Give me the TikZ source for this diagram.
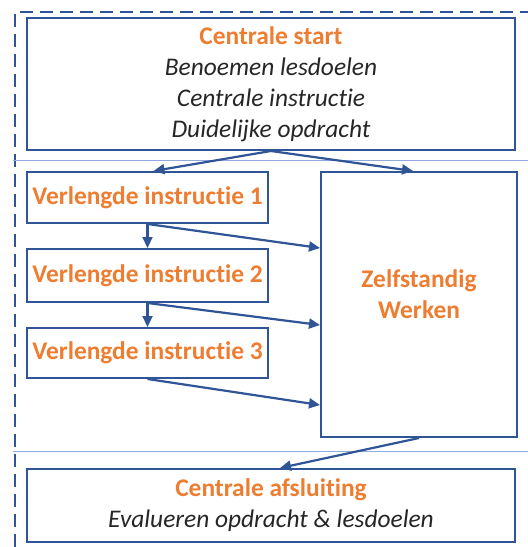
\documentclass[tikz,border=0pt]{standalone}
\usepackage{fontspec}
\setmainfont[Ligatures=NoCommon]{Carlito}
\usetikzlibrary{arrows.meta}

\definecolor{boxblue}{HTML}{2F5597}
\definecolor{lineblue}{HTML}{8FAADC}
\definecolor{titleorange}{HTML}{ED7D31}
\definecolor{textdark}{HTML}{262626}

\newcommand{\ttl}[1]{{\bfseries\color{titleorange}#1}}

\begin{document}
\begin{tikzpicture}[x=1bp,y=-1bp,
    box/.style={draw=boxblue,line width=2bp,inner sep=0pt,align=center,
      text=textdark,font=\fontsize{25.5}{31}\selectfont},
    flow/.style={draw=boxblue,line width=2.2bp,-{Triangle[length=11bp,width=10bp]}}]

        \useasboundingbox (0,0) rectangle (528,547);

        % outer frame and separators
        \draw[boxblue,line width=1.6bp,dash pattern=on 13bp off 7bp] (15,547) -- (15,12) -- (530,12);
        \draw[lineblue,line width=1bp] (13,161) -- (528,161);
        \draw[lineblue,line width=1bp] (13,451) -- (528,451);

        \begin{scope}[every node/.style={box}]
          \node[minimum width=488bp,minimum height=132bp] (s) at (271,84)
            {\ttl{Centrale start}\\ \itshape Benoemen lesdoelen\\ \itshape Centrale instructie\\ \itshape Duidelijke opdracht};
          \node[minimum width=241bp,minimum height=51bp] (v1) at (147.5,197.5) {\ttl{Verlengde instructie 1}};
          \node[minimum width=241bp,minimum height=53bp] (v2) at (147.5,275.5) {\ttl{Verlengde instructie 2}};
          \node[minimum width=241bp,minimum height=50bp] (v3) at (147.5,353) {\ttl{Verlengde instructie 3}};
          \node[minimum width=196bp,minimum height=265bp] (z) at (419,304.5) {};
          \node[minimum width=488bp,minimum height=73bp] (a) at (271,505.5)
            {\ttl{Centrale afsluiting}\\ \itshape Evalueren opdracht \& lesdoelen};
        \end{scope}

        \node[box,draw=none] (zt) at ([yshift=10bp]z.center) {\ttl{Zelfstandig}\\ \ttl{Werken}};

        \begin{scope}[every edge/.style={flow}]
          \path (s.south)  edge ([xshift=6bp]v1.north);
          \path (s.south)  edge ([xshift=-6bp]z.north);
          \path (v1.south) edge (v2.north);
          \path (v1.south) edge ([yshift=56.5bp]z.west);
          \path (v2.south) edge (v3.north);
          \path (v2.south) edge ([yshift=-20.5bp]z.west);
          \path (v3.south) edge ([yshift=-100.5bp]z.west);
          \path (z.south)  edge ([xshift=9bp]a.north);
        \end{scope}

      \end{tikzpicture}
\end{document}
